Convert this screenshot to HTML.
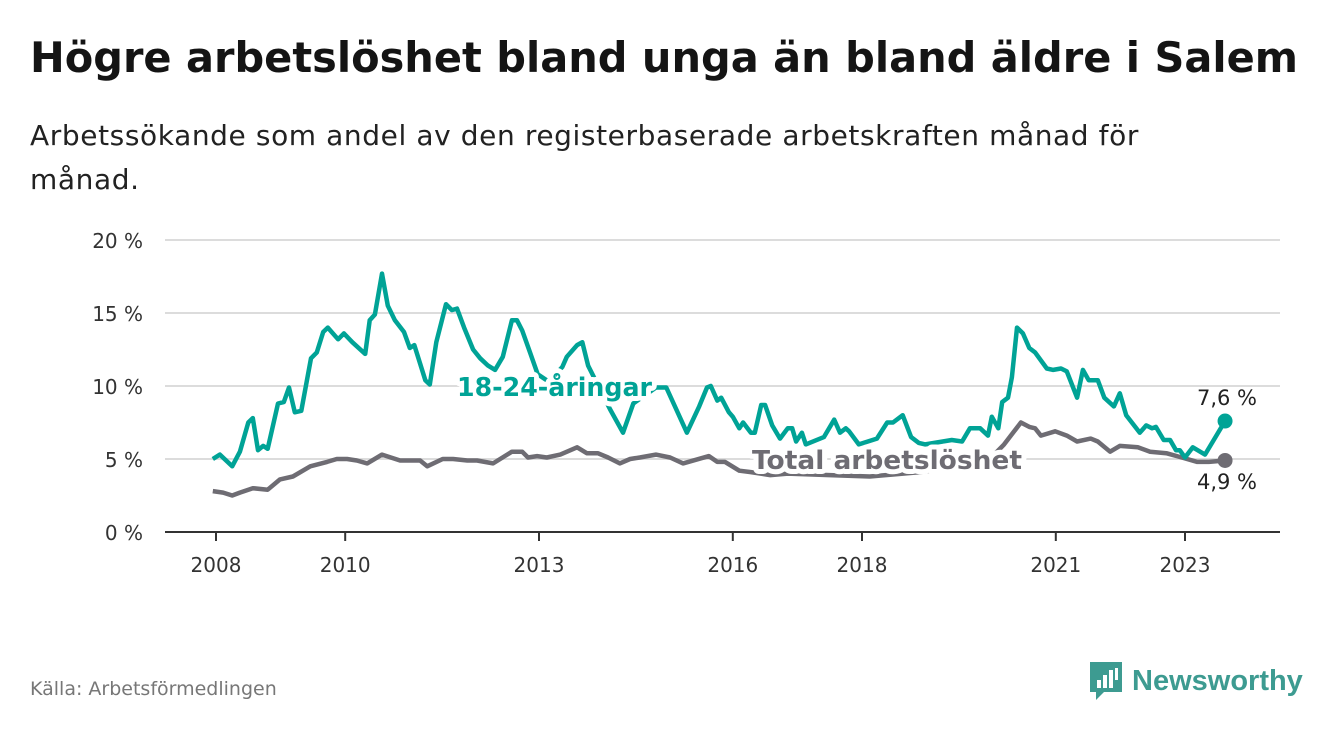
<!DOCTYPE html>
<html><head><meta charset="utf-8">
<style>
body{margin:0;width:1340px;height:734px;background:#fff;font-family:"DejaVu Sans","Liberation Sans",sans-serif;overflow:hidden;position:relative}
#title{position:absolute;left:30px;top:33px;font-size:41.5px;font-weight:bold;color:#141414;white-space:nowrap}
#subtitle{position:absolute;left:30px;top:114px;font-size:28px;letter-spacing:0.6px;line-height:44px;color:#222;width:1200px}
#source{position:absolute;left:30px;top:678px;font-size:19px;color:#777}
#logo{position:absolute;left:1088px;top:660px;display:flex;align-items:center}
#logo span{font-family:"Liberation Sans",sans-serif;font-size:29px;font-weight:bold;color:#3d9b91;margin-left:8px}
svg{position:absolute;left:0;top:0}
text{font-family:"DejaVu Sans","Liberation Sans",sans-serif}
</style></head>
<body>
<div id="title">Högre arbetslöshet bland unga än bland äldre i Salem</div>
<div id="subtitle">Arbetssökande som andel av den registerbaserade arbetskraften månad för månad.</div>
<div id="source">Källa: Arbetsförmedlingen</div>
<div id="logo">
<svg width="36" height="42" style="position:static"><path d="M2 2h32v30H16l-8 8v-8H2z" fill="#3d9b91"/><rect x="9" y="20" width="4" height="8" fill="#fff"/><rect x="15" y="15" width="4" height="13" fill="#fff"/><rect x="21" y="10" width="4" height="18" fill="#fff"/><rect x="27" y="8" width="3" height="12" fill="#fff"/></svg>
<span>Newsworthy</span></div>
<svg id="chart" width="1340" height="734"></svg>
<script>
const yTicks=[0,5,10,15,20];
const xTicks=[2008,2010,2013,2016,2018,2021,2023];
const youthDates=[2007.95,2008.06,2008.25,2008.37,2008.5,2008.57,2008.65,2008.73,2008.8,2008.96,2009.05,2009.13,2009.22,2009.32,2009.47,2009.56,2009.66,2009.73,2009.89,2009.98,2010.11,2010.31,2010.38,2010.46,2010.57,2010.66,2010.77,2010.91,2011.0,2011.07,2011.24,2011.31,2011.41,2011.56,2011.65,2011.73,2011.84,2011.98,2012.09,2012.21,2012.32,2012.44,2012.58,2012.66,2012.74,2012.86,2012.98,2013.15,2013.36,2013.43,2013.59,2013.67,2013.76,2014.1,2014.3,2014.46,2014.81,2014.97,2015.29,2015.48,2015.6,2015.66,2015.76,2015.82,2015.94,2016.0,2016.1,2016.16,2016.28,2016.34,2016.44,2016.5,2016.61,2016.73,2016.85,2016.92,2016.98,2017.07,2017.13,2017.41,2017.57,2017.66,2017.75,2017.8,2017.95,2018.23,2018.39,2018.48,2018.63,2018.76,2018.88,2018.98,2019.39,2019.55,2019.67,2019.83,2019.95,2020.01,2020.11,2020.17,2020.26,2020.32,2020.4,2020.49,2020.59,2020.68,2020.86,2020.96,2021.08,2021.17,2021.33,2021.42,2021.51,2021.65,2021.75,2021.9,2021.99,2022.09,2022.3,2022.4,2022.49,2022.55,2022.67,2022.77,2022.86,2022.92,2023.0,2023.12,2023.31,2023.62];
const youthValues=[5.0,5.3,4.5,5.5,7.5,7.8,5.6,5.9,5.7,8.8,8.9,9.9,8.2,8.3,11.9,12.3,13.7,14.0,13.2,13.6,13.0,12.2,14.5,14.9,17.7,15.5,14.5,13.7,12.6,12.8,10.4,10.1,13.0,15.6,15.2,15.3,14.0,12.5,11.9,11.4,11.1,12.0,14.5,14.5,13.8,12.3,10.8,10.3,11.3,12.0,12.8,13.0,11.4,8.4,6.8,8.8,9.9,9.9,6.8,8.6,9.9,10.0,9.0,9.2,8.2,7.9,7.1,7.5,6.8,6.8,8.7,8.7,7.3,6.4,7.1,7.1,6.2,6.8,6.0,6.5,7.7,6.8,7.1,6.9,6.0,6.4,7.5,7.5,8.0,6.5,6.1,6.0,6.3,6.2,7.1,7.1,6.6,7.9,7.1,8.9,9.2,10.6,14.0,13.6,12.6,12.3,11.2,11.1,11.2,11.0,9.2,11.1,10.4,10.4,9.2,8.6,9.5,8.0,6.8,7.3,7.1,7.2,6.3,6.3,5.6,5.6,5.1,5.8,5.3,7.6];
const totalDates=[2007.95,2008.11,2008.25,2008.37,2008.57,2008.8,2008.99,2009.19,2009.46,2009.72,2009.87,2010.03,2010.18,2010.34,2010.57,2010.85,2010.97,2011.16,2011.27,2011.51,2011.67,2011.89,2012.04,2012.29,2012.58,2012.74,2012.83,2012.97,2013.12,2013.33,2013.59,2013.74,2013.91,2014.07,2014.25,2014.41,2014.56,2014.81,2015.03,2015.23,2015.63,2015.76,2015.88,2016.1,2016.28,2016.58,2016.85,2017.5,2018.12,2018.9,2019.52,2019.98,2020.2,2020.46,2020.59,2020.68,2020.77,2020.99,2021.17,2021.33,2021.54,2021.65,2021.84,2021.99,2022.27,2022.46,2022.71,2022.95,2023.19,2023.37,2023.62];
const totalValues=[2.8,2.7,2.5,2.7,3.0,2.9,3.6,3.8,4.5,4.8,5.0,5.0,4.9,4.7,5.3,4.9,4.9,4.9,4.5,5.0,5.0,4.9,4.9,4.7,5.5,5.5,5.1,5.2,5.1,5.3,5.8,5.4,5.4,5.1,4.7,5.0,5.1,5.3,5.1,4.7,5.2,4.8,4.8,4.2,4.1,3.9,4.0,3.9,3.8,4.1,4.5,5.0,6.0,7.5,7.2,7.1,6.6,6.9,6.6,6.2,6.4,6.2,5.5,5.9,5.8,5.5,5.4,5.1,4.8,4.8,4.9];
const NS='http://www.w3.org/2000/svg';
const svg=document.getElementById('chart');
const X=t=>216+(t-2008)*64.6;
const Y=v=>532-v*14.6;
function mk(tag,attrs){const e=document.createElementNS(NS,tag);for(const k in attrs)e.setAttribute(k,attrs[k]);svg.appendChild(e);return e;}
yTicks.forEach(v=>{
  if(v>0){const g=mk('line',{x1:165,x2:1280,y1:Y(v),y2:Y(v),stroke:'#dcdcdc','stroke-width':2});
  
  }
  const t=mk('text',{x:143,y:Y(v)+8,'text-anchor':'end','font-size':20,fill:'#333'});
  t.textContent=v+' %';
  
  
});
const ax=mk('line',{x1:165,x2:1280,y1:532,y2:532,stroke:'#333','stroke-width':2});


xTicks.forEach(yr=>{
  const tk=mk('line',{x1:X(yr),x2:X(yr),y1:532,y2:541,stroke:'#333','stroke-width':2});
  
  
  const t=mk('text',{x:X(yr),y:572,'text-anchor':'middle','font-size':20,fill:'#333'});
  t.textContent=yr;
  
  
});
function line(d,v,col,name){
  const p=mk('path',{d:d.map((t,i)=>(i?'L':'M')+X(t).toFixed(1)+','+Y(v[i]).toFixed(1)).join(''),fill:'none',stroke:col,'stroke-width':4.5,'stroke-linejoin':'round'});
  
  
  const n=d.length-1;
  const c=mk('circle',{cx:X(d[n]),cy:Y(v[n]),r:7.5,fill:col});
  
  
  return [X(d[n]),Y(v[n]),v[n]];
}
const eT=line(totalDates,totalValues,'#6e6c73','total-line');
const eY=line(youthDates,youthValues,'#00a396','youth-line');
function lbl(x,y,txt,col,name,size,bold,anchor,halo,len){
  const t=mk('text',{x:x,y:y,'font-size':size,fill:col,'font-weight':bold?'bold':'normal','text-anchor':anchor||'start',stroke:halo?'#fff':'none','stroke-width':halo?10:0,'paint-order':'stroke','stroke-linejoin':'round'});
  if(len){t.setAttribute('textLength',len);t.setAttribute('lengthAdjust','spacingAndGlyphs');}
  t.textContent=txt;
  
  
}
lbl(457,396,'18-24-åringar','#00a396','youth-series-label',26,true,'start',true,195);
lbl(752,469,'Total arbetslöshet','#6e6c73','total-series-label',26,true,'start',true,270);
lbl(1227,405,eY[2].toFixed(1).replace('.',',')+' %','#222','youth-end-value',21,false,'middle',false);
lbl(1227,489,eT[2].toFixed(1).replace('.',',')+' %','#222','total-end-value',21,false,'middle',false);
</script>
</body></html>
